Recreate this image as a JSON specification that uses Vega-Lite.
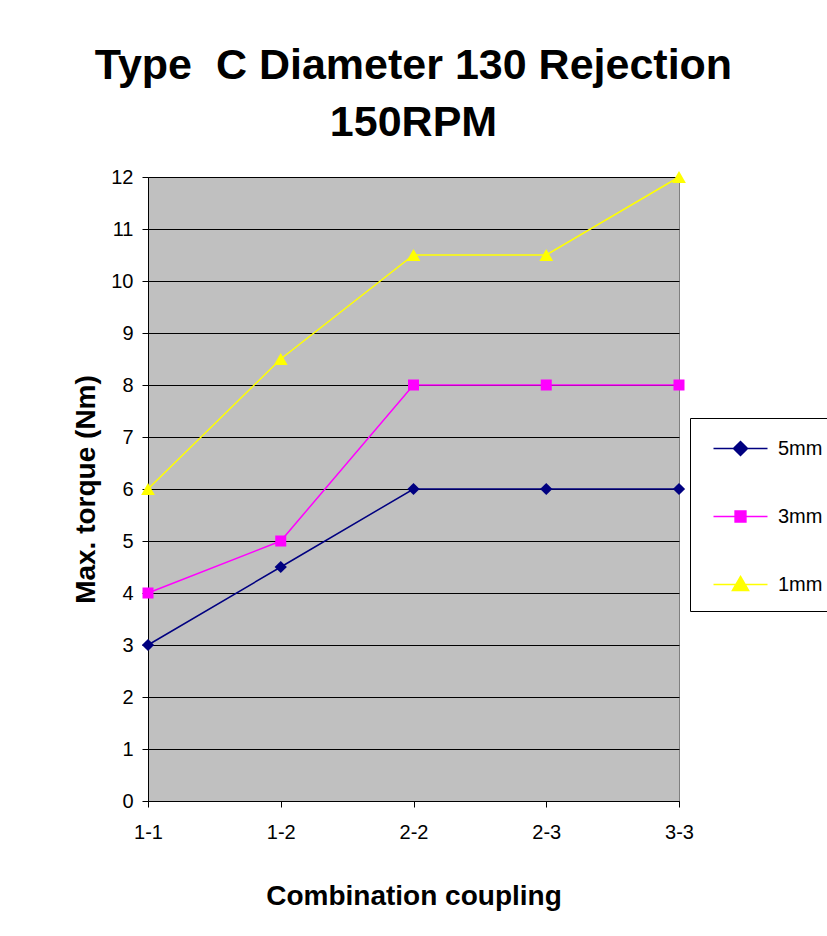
{
  "$schema": "https://vega.github.io/schema/vega-lite/v6.json",
  "width": 531,
  "height": 624,
  "autosize": {"type": "none"},
  "padding": {"left": 148, "top": 177, "right": 148, "bottom": 135},
  "background": "white",
  "title": {
    "text": ["Type \u00a0C Diameter 130 Rejection", "150RPM"],
    "fontSize": 43,
    "font": "Liberation Sans",
    "fontWeight": "bold",
    "lineHeight": 57,
    "anchor": "middle",
    "offset": 22,
    "color": "black"
  },
  "data": {
    "values": [
      {"coupling": "1-1", "series": "5mm", "torque": 3},
      {"coupling": "1-2", "series": "5mm", "torque": 4.5},
      {"coupling": "2-2", "series": "5mm", "torque": 6},
      {"coupling": "2-3", "series": "5mm", "torque": 6},
      {"coupling": "3-3", "series": "5mm", "torque": 6},
      {"coupling": "1-1", "series": "3mm", "torque": 4},
      {"coupling": "1-2", "series": "3mm", "torque": 5},
      {"coupling": "2-2", "series": "3mm", "torque": 8},
      {"coupling": "2-3", "series": "3mm", "torque": 8},
      {"coupling": "3-3", "series": "3mm", "torque": 8},
      {"coupling": "1-1", "series": "1mm", "torque": 6},
      {"coupling": "1-2", "series": "1mm", "torque": 8.5},
      {"coupling": "2-2", "series": "1mm", "torque": 10.5},
      {"coupling": "2-3", "series": "1mm", "torque": 10.5},
      {"coupling": "3-3", "series": "1mm", "torque": 12}
    ]
  },
  "encoding": {
    "x": {
      "field": "coupling",
      "type": "ordinal",
      "sort": ["1-1", "1-2", "2-2", "2-3", "3-3"],
      "scale": {"type": "point", "padding": 0},
      "axis": {
        "title": "Combination coupling",
        "labelAngle": 0,
        "labelPadding": 15,
        "tickSize": 6,
        "grid": false,
        "titlePadding": 40
      }
    },
    "y": {
      "field": "torque",
      "type": "quantitative",
      "scale": {"domain": [0, 12], "nice": false, "zero": true},
      "axis": {
        "title": "Max. torque (Nm)",
        "values": [0, 1, 2, 3, 4, 5, 6, 7, 8, 9, 10, 11, 12],
        "tickSize": 6,
        "labelPadding": 9,
        "grid": true,
        "gridColor": "black",
        "gridWidth": 1,
        "gridOpacity": 1,
        "titlePadding": 10
      }
    }
  },
  "layer": [
    {
      "mark": {"type": "line", "strokeWidth": 1.5},
      "encoding": {
        "color": {
          "field": "series",
          "type": "nominal",
          "sort": ["5mm", "3mm", "1mm"],
          "scale": {"domain": ["5mm", "3mm", "1mm"], "range": ["#000080", "#FF00FF", "#FFFF00"]},
          "legend": {
            "title": null,
            "orient": "none",
            "legendX": 542,
            "legendY": 241,
            "padding": 16,
            "rowPadding": 43,
            "symbolSize": 729,
            "symbolOffset": 20,
            "labelOffset": 23,
            "labelFontSize": 20,
            "labelFont": "Liberation Sans",
            "labelColor": "black",
            "strokeColor": "black",
            "fillColor": "white",
            "encode": {
              "symbols": {
                "update": {
                  "shape": {"signal": "datum.value === '5mm' ? 'M-2,0H2M0,-0.52L0.52,0L0,0.52L-0.52,0Z' : datum.value === '3mm' ? 'M-2,0H2M-0.4,-0.4H0.4V0.4H-0.4Z' : 'M-2,0H2M0,-0.6L0.6,0.44H-0.6Z'"},
                  "fill": {"signal": "scale('color', datum.value)"},
                  "stroke": {"signal": "scale('color', datum.value)"},
                  "strokeWidth": {"value": 1.5},
                  "opacity": {"value": 1}
                }
              }
            }
          }
        }
      }
    },
    {
      "transform": [{"filter": "datum.series === '5mm'"}],
      "mark": {"type": "point", "filled": true, "opacity": 1, "shape": "diamond", "color": "#000080", "size": 150}
    },
    {
      "transform": [{"filter": "datum.series === '3mm'"}],
      "mark": {"type": "point", "filled": true, "opacity": 1, "shape": "square", "color": "#FF00FF", "size": 121}
    },
    {
      "transform": [{"filter": "datum.series === '1mm'"}],
      "mark": {"type": "point", "filled": true, "opacity": 1, "shape": "triangle-up", "color": "#FFFF00", "size": 190}
    }
  ],
  "config": {
    "view": {"fill": "#C0C0C0", "stroke": "#808080", "strokeWidth": 1},
    "axis": {
      "labelFont": "Liberation Sans",
      "labelFontSize": 20,
      "labelColor": "black",
      "titleFont": "Liberation Sans",
      "titleFontSize": 28,
      "titleFontWeight": "bold",
      "titleColor": "black",
      "domainColor": "black",
      "tickColor": "black"
    }
  }
}
